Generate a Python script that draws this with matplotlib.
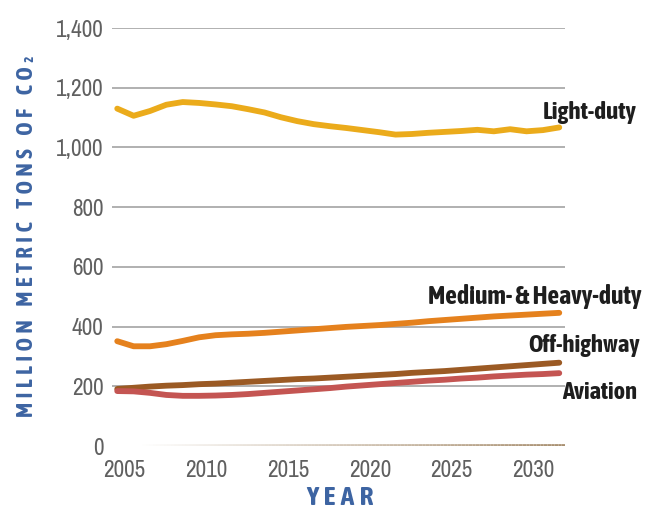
import numpy as np
import matplotlib
matplotlib.use('Agg')
import matplotlib.pyplot as plt
import matplotlib.transforms as mtransforms
import matplotlib.font_manager as fm
import matplotlib.patheffects as pe
from matplotlib.collections import LineCollection
from matplotlib.ticker import FuncFormatter

##################################################################
# data (million metric tons of CO2)

years = np.arange(2005, 2033)

light_duty = [1130, 1106, 1122, 1143, 1152, 1149, 1144, 1138, 1128, 1117,
              1101, 1088, 1078, 1071, 1065, 1058, 1051, 1043, 1045, 1049,
              1052, 1055, 1059, 1054, 1061, 1054, 1058, 1067]
medium_heavy = [351, 334, 334, 341, 352, 364, 371, 374, 376, 379,
                383, 387, 391, 395, 399, 402, 405, 409, 413, 418,
                422, 426, 430, 434, 437, 440, 443, 446]
off_highway = [191, 195, 199, 202, 204, 207, 209, 212, 215, 218,
               221, 224, 226, 229, 232, 235, 238, 241, 245, 248,
               251, 255, 259, 263, 267, 271, 275, 279]
aviation = [184, 183, 178, 171, 168, 168, 169, 171, 174, 178,
            182, 186, 190, 194, 199, 203, 207, 211, 215, 219,
            222, 226, 229, 233, 236, 239, 241, 244]

series_names = ['Light-duty', 'Medium- & Heavy-duty', 'Off-highway', 'Aviation']
y_ticks = [0, 200, 400, 600, 800, 1000, 1200, 1400]
x_ticks = [2005, 2010, 2015, 2020, 2025, 2030]

##################################################################

# look for narrow/condensed faces: one regular-ish, one bold
def _w(f):
    return f.weight if isinstance(f.weight, int) else fm.weight_dict.get(f.weight, 400)

narrow = {}
for f in fm.fontManager.ttflist:
    if f.style == 'normal' and ('Narrow' in f.name or 'Condensed' in f.name):
        narrow.setdefault(f.name, set()).add(_w(f))

reg_fam = 'Roboto'
bold_fam, bold_w, fake_bold = 'Roboto', 'bold', False
if narrow:
    reg_fam = min(narrow, key=lambda n: min(abs(w - 400) for w in narrow[n]))
    bolds = [(abs(w - 700), n, w) for n in narrow for w in narrow[n] if w >= 600]
    if bolds:
        _, bold_fam, bold_w = min(bolds)
    else:
        bold_fam, bold_w, fake_bold = reg_fam, max(narrow[reg_fam]), True

plt.rcParams['font.family'] = [reg_fam, 'DejaVu Sans']

colors = ['#ebab1b', '#e5811d', '#9b5a24', '#c45552']
label_color = '#1e1e1e'
tick_color = '#606060'
blue = '#3d64a2'

fig = plt.figure(figsize=(6.56, 5.11), dpi=100)
ax = fig.add_axes([112/656, 65/511, 453/656, 418/511])
renderer = fig.canvas.get_renderer()


def fit_width(txt, target_px, horizontal=True):
    # scale the font size so the text spans target_px
    for _ in range(3):
        bb = txt.get_window_extent(renderer)
        w = bb.width if horizontal else bb.height
        txt.set_fontsize(txt.get_fontsize() * target_px / w)
    return txt.get_fontsize()


def bold_text(x, y, s, color, **kw):
    t = fig.text(x, y, s, family=[bold_fam, 'DejaVu Sans'], fontweight=bold_w,
                 color=color, **kw)
    if fake_bold:
        t.set_path_effects([pe.withStroke(linewidth=1.1, foreground=color)])
    return t


ax.set_xlim(2004.68, 2032.35)
ax.set_ylim(0, 1400)

# gridlines (no line at zero, that one is a fading rule)
for yv in y_ticks[1:]:
    ax.axhline(yv, color='#a3a3a3', lw=1.2, zorder=1)

xs = np.linspace(2006.3, 2032.35, 120)
segs = [[(xs[i], 2), (xs[i+1], 2)] for i in range(len(xs)-1)]
alphas = np.linspace(0.0, 1.0, len(segs))
seg_cols = [(0.66, 0.56, 0.44, a) for a in alphas]
ax.add_collection(LineCollection(segs, colors=seg_cols, linewidths=2, zorder=1))

all_series = [light_duty, medium_heavy, off_highway, aviation]
for vals, c in zip(all_series, colors):
    ax.plot(years, vals, color=c, lw=4.2, solid_capstyle='round',
            solid_joinstyle='round', zorder=3)

# series labels at the right end
label_pos = [(2036.75, 1095), (2037.05, 476), (2036.9, 316), (2036.77, 157)]
label_w = [94, 214, 112, 75]
for name, (lx, ly), w in zip(series_names, label_pos, label_w):
    t = bold_text(lx, ly, name, label_color, ha='right', va='baseline',
                  fontsize=15, transform=ax.transData)
    fit_width(t, w)

# tick labels: size taken from how wide "1,400" is in the reference
probe = fig.text(0, 0, '1,400', fontsize=15)
tick_size = fit_width(probe, 48)
probe.remove()

ax.set_yticks(y_ticks)
ax.yaxis.set_major_formatter(FuncFormatter(lambda v, p: '{:,.0f}'.format(v)))
ax.set_xticks(x_ticks)
ax.tick_params(axis='both', length=0, labelsize=tick_size, labelcolor=tick_color)
ax.tick_params(axis='y', pad=6)
ax.tick_params(axis='x', pad=10)

offset = mtransforms.ScaledTranslation(0.07, 0, fig.dpi_scale_trans)
for lab in ax.get_xticklabels():
    lab.set_transform(lab.get_transform() + offset)

for sp in ax.spines.values():
    sp.set_visible(False)

# axis titles, letter-spaced with thin spaces like the original
ts = '\u2009'
ylab_text = (ts * 3).join(ts.join(word) for word in ['MILLION', 'METRIC', 'TONS', 'OF', 'CO\u2082'])
ylab = bold_text(27/656, 1 - 236/511, ylab_text, blue, rotation=90,
                 ha='center', va='center', fontsize=16)
fit_width(ylab, 362, horizontal=False)
xlab = bold_text(340/656, 1 - 497/511, ts.join('YEAR'), blue,
                 ha='center', va='center', fontsize=17)
fit_width(xlab, 67)

fig.savefig('out.png', dpi=100, facecolor='white')
